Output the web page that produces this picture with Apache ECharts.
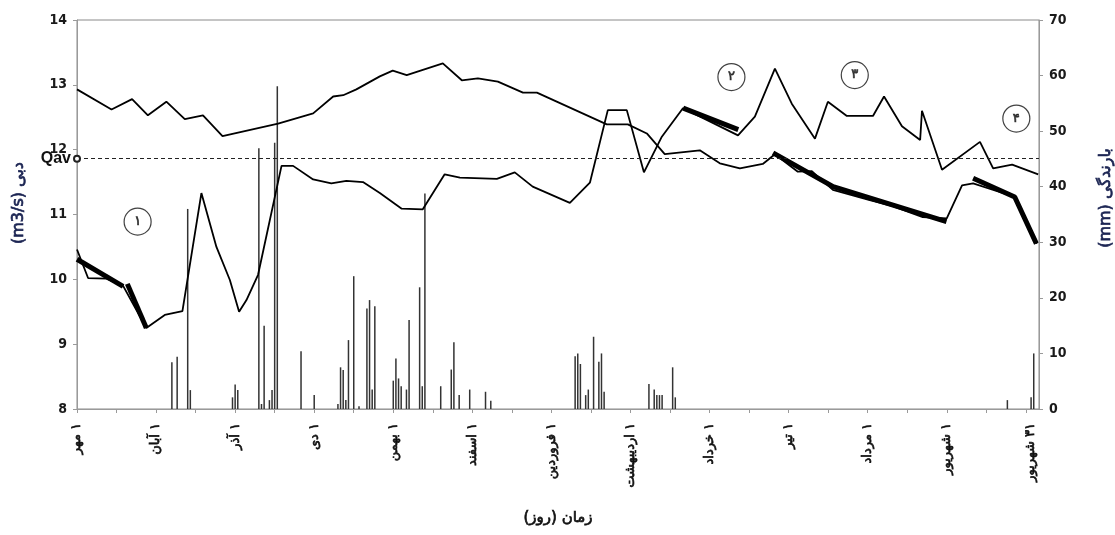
<!DOCTYPE html>
<html><head><meta charset="utf-8">
<script src="https://cdn.jsdelivr.net/npm/echarts@6/dist/echarts.min.js"></script>
<style>html,body{margin:0;padding:0;background:#fff}#c{width:1115px;height:535px}</style>
</head><body><div id="c"></div>
<script>
// ---- data (day index from 1 Mehr) ----
const monthTicks = [0, 30, 60, 90, 120, 150, 180, 210, 240, 270, 300, 330, 362];
const monthLabels = ['۱ مهر', '۱ آبان', '۱ آذر', '۱ دی', '۱ بهمن', '۱ اسفند', '۱ فروردین', '۱ اردیبهشت', '۱ خرداد', '۱ تیر', '۱ مرداد', '۱ شهریور', '۳۱ شهریور'];
const tickDays = [0, 15, 30, 45, 60, 75, 90, 105, 120, 135, 150, 165, 180, 195, 210, 225, 240, 255, 270, 285, 300, 315, 330, 345, 360];

const lineADays = [0, 13.1, 20.9, 26.9, 33.9, 40.9, 47.8, 55.2, 76.3, 89.6, 97.2, 101.0, 106.0, 114.9, 119.8, 125.1, 138.8, 146.0, 152.1, 159.7, 169.2, 174.5, 201.0, 209.0, 216.2, 223.0, 236.3, 243.9, 251.5, 260.2, 264.8, 273.5, 278.8, 286.8, 300.8, 309.5, 320.9, 330.0, 335.8, 340.0, 355.9, 364.2];
const lineAValues = [12.93, 12.62, 12.78, 12.53, 12.74, 12.47, 12.53, 12.21, 12.40, 12.56, 12.82, 12.84, 12.93, 13.13, 13.22, 13.15, 13.33, 13.07, 13.10, 13.05, 12.88, 12.88, 12.39, 12.39, 12.25, 11.93, 11.99, 11.79, 11.71, 11.78, 11.93, 11.66, 11.67, 11.38, 11.22, 11.13, 10.96, 10.94, 11.45, 11.48, 11.27, 10.55];

const lineBDays = [0, 4.2, 11.2, 17.5, 26.3, 33.3, 40.0, 47.2, 52.9, 58.0, 61.5, 64.3, 68.7, 77.6, 82.0, 89.6, 96.5, 102.2, 108.5, 114.9, 123.2, 131.2, 139.5, 145.3, 159.3, 166.1, 172.9, 187.0, 194.6, 201.4, 208.6, 215.1, 221.9, 229.9, 250.8, 257.2, 264.8, 271.2, 280.0, 284.9, 292.1, 302.0, 306.2, 313.0, 319.9, 320.6, 328.2, 342.6, 347.6, 354.8, 364.7];
const lineBValues = [10.46, 10.02, 10.01, 9.90, 9.25, 9.45, 9.51, 11.33, 10.50, 9.99, 9.50, 9.68, 10.07, 11.75, 11.75, 11.54, 11.48, 11.52, 11.50, 11.33, 11.09, 11.08, 11.62, 11.57, 11.55, 11.65, 11.43, 11.18, 11.49, 12.61, 12.61, 11.65, 12.20, 12.64, 12.22, 12.51, 13.25, 12.71, 12.17, 12.74, 12.52, 12.52, 12.82, 12.36, 12.15, 12.60, 11.69, 12.12, 11.71, 11.77, 11.62];

const recessionDays = [[0, 17.5], [19.1, 26.3], [230.0, 250.9], [264.1, 286.9, 329.9], [340.0, 355.8, 364.0]];
const recessionValues = [[10.31, 9.89], [9.93, 9.25], [12.64, 12.31], [11.95, 11.43, 10.89], [11.56, 11.27, 10.55]];

const rainDays = [36, 38, 42, 43, 59, 60, 61, 69, 70, 71, 73, 74, 75, 76, 85, 90, 99, 100, 101, 102, 103, 105, 107, 110, 111, 112, 113, 120, 121, 122, 123, 125, 126, 130, 131, 132, 138, 142, 143, 145, 149, 155, 157, 189, 190, 191, 193, 194, 196, 198, 199, 200, 217, 219, 220, 221, 222, 226, 227, 353, 362, 363];
const rainValues = [8.4, 9.4, 36.0, 3.4, 2.1, 4.4, 3.4, 46.9, 0.9, 15.0, 1.6, 3.4, 47.9, 58.1, 10.4, 2.5, 0.9, 7.5, 7.0, 1.6, 12.4, 23.9, 0.5, 18.1, 19.6, 3.5, 18.5, 5.1, 9.1, 5.5, 4.1, 3.5, 16.0, 21.9, 4.1, 38.8, 4.1, 7.1, 12.0, 2.5, 3.5, 3.1, 1.5, 9.5, 10.0, 8.1, 2.5, 3.5, 13.0, 8.5, 10.0, 3.1, 4.5, 3.5, 2.5, 2.5, 2.5, 7.5, 2.1, 1.6, 2.1, 10.0];

const noteDays = [23.0, 248.3, 295.1, 356.4];
const noteValues = [10.89, 13.12, 13.15, 12.48];
const noteLabels = ['۱', '۲', '۳', '۴'];

const Qav = 11.86;

// ---- chart ----
const rtl = s => '\u202B' + s + '\u202C';
const zip = (a, b) => a.map((d, i) => [d, b[i]]);
const narrow = "'Liberation Sans Narrow', 'DejaVu Sans Condensed', 'Liberation Sans', sans-serif";
const fa = "'DejaVu Sans', sans-serif";
const axisGray = '#9a9a9a';
const navy = '#1b2452';
// faux-bold persian text (regular DejaVu face shapes Arabic reliably)
const faText = (size, color, extra) => Object.assign({
  fontFamily: fa, fontWeight: 'normal', fontSize: size, color: color,
  textBorderColor: color, textBorderWidth: 0.7
}, extra || {});

const series = [
  {
    type: 'bar', yAxisIndex: 1, barWidth: 1.5, silent: true, z: 1,
    itemStyle: { color: '#333' },
    data: zip(rainDays, rainValues)
  },
  {
    type: 'line', symbol: 'none', showSymbol: false, z: 3, silent: true,
    lineStyle: { color: '#000', width: 1.8 },
    data: zip(lineADays, lineAValues),
    markLine: {
      silent: true, symbol: ['emptyCircle', 'none'], symbolSize: 6,
      lineStyle: { type: [4, 3], color: '#222', width: 1.2 },
      label: { show: true, position: 'start', formatter: 'Qav', fontFamily: "'Liberation Sans', Arial, sans-serif", fontWeight: 'bold', fontSize: 16, color: '#111', distance: 6 },
      data: [{ yAxis: Qav }]
    }
  },
  {
    type: 'line', symbol: 'none', showSymbol: false, z: 3, silent: true,
    lineStyle: { color: '#000', width: 1.8 },
    data: zip(lineBDays, lineBValues)
  }
];
recessionDays.forEach((days, k) => {
  series.push({
    type: 'line', symbol: 'none', showSymbol: false, z: 4, silent: true,
    lineStyle: { color: '#000', width: 5 },
    data: zip(days, recessionValues[k])
  });
});
series.push({
  type: 'scatter', z: 6, silent: true, symbol: 'circle', symbolSize: 27,
  itemStyle: { color: '#fff', borderColor: '#111', borderWidth: 1.2 },
  label: Object.assign({ show: true, position: 'inside', formatter: p => noteLabels[p.dataIndex] }, faText(13, '#111')),
  data: zip(noteDays, noteValues)
});

const option = {
  animation: false,
  backgroundColor: '#fff',
  grid: { left: 77, right: 76, top: 20, bottom: 126, show: true, borderColor: '#8a8a8a', borderWidth: 1, containLabel: false, outerBoundsMode: 'none' },
  xAxis: {
    type: 'value', min: 0, max: 365,
    axisLine: { show: true, onZero: false, lineStyle: { color: axisGray, width: 1 } },
    axisTick: { show: true, customValues: tickDays, length: 4, lineStyle: { color: axisGray } },
    axisLabel: Object.assign({
      customValues: monthTicks, rotate: 90, margin: 14, padding: [8, 0, 0, 0],
      formatter: v => { const i = monthTicks.indexOf(v); return i >= 0 ? rtl(monthLabels[i]) : ''; }
    }, faText(13, '#111')),
    splitLine: { show: false },
    name: rtl('زمان (روز)'), nameLocation: 'middle', nameGap: 102,
    nameTextStyle: faText(15, '#111')
  },
  yAxis: [
    {
      type: 'value', min: 8, max: 14, interval: 1, position: 'left',
      axisLine: { show: true, lineStyle: { color: axisGray } },
      axisTick: { show: true, length: 4, lineStyle: { color: axisGray } },
      axisLabel: { margin: 10, fontFamily: narrow, fontWeight: 'bold', fontSize: 14, color: '#1a1a1a' },
      splitLine: { show: false },
      name: rtl('دبی (m3/s)'), nameLocation: 'middle', nameRotate: 90, nameGap: 50,
      nameTextStyle: faText(16, navy, { padding: [0, 0, 0, 23] })
    },
    {
      type: 'value', min: 0, max: 70, interval: 10, position: 'right',
      axisLine: { show: true, lineStyle: { color: axisGray } },
      axisTick: { show: true, length: 4, lineStyle: { color: axisGray } },
      axisLabel: { margin: 10, fontFamily: narrow, fontWeight: 'bold', fontSize: 14, color: '#1a1a1a' },
      splitLine: { show: false },
      name: rtl('بارندگی (mm)'), nameLocation: 'middle', nameRotate: 90, nameGap: 59,
      nameTextStyle: faText(16, navy, { padding: [0, 0, 0, 33] })
    }
  ],
  series: series
};

const chart = echarts.init(document.getElementById('c'), null, { renderer: 'canvas' });
chart.setOption(option);
</script></body></html>
